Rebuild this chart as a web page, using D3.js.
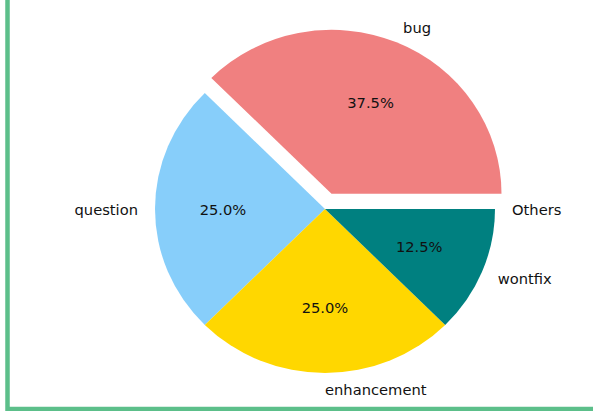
<!DOCTYPE html>
<html>
<head>
<meta charset="utf-8">
<script src="https://cdn.jsdelivr.net/npm/d3@7"></script>
<style>
  html, body { margin: 0; padding: 0; background: #ffffff; }
  svg { display: block; }
</style>
</head>
<body>
<svg id="chart" width="593" height="411"></svg>
<script>
// Issue labels and their share of the total, in percent
const labels = ["bug", "question", "enhancement", "wontfix", "Others"];
const shares = [37.5, 25.0, 25.0, 12.5, 0.0];
const colors = ["#F08080", "#87CEFA", "#FFD700", "#008080", "#808080"];
const explode = [0.1, 0, 0, 0, 0];

const svg = d3.select("#chart");
const W = 593, H = 411;

// frame around the figure
svg.append("rect")
  .attr("x", 7.5).attr("y", -20)
  .attr("width", W + 40).attr("height", 429)
  .attr("fill", "none")
  .attr("stroke", "#5cbf8a")
  .attr("stroke-width", 4.5);

const cx = 325, cy = 209;
const rx = 170, ry = 164;

// slices go counter-clockwise starting at 3 o'clock
const pie = d3.pie().sort(null).value(d => d)
  .startAngle(Math.PI / 2).endAngle(Math.PI / 2 - 2 * Math.PI);
const arcs = pie(shares);

const arc = d3.arc().innerRadius(0).outerRadius(ry);

const data = arcs.map((a, i) => {
  const mid = (a.startAngle + a.endAngle) / 2;
  const ux = Math.sin(mid), uy = -Math.cos(mid);
  return {
    a, i, ux, uy,
    ox: explode[i] * rx * ux,
    oy: explode[i] * ry * uy
  };
});

const g = svg.append("g");

g.selectAll("path.slice")
  .data(data.filter(d => d.a.value > 0))
  .join("path")
  .attr("class", "slice")
  .attr("d", d => arc(d.a))
  .attr("transform", d => `translate(${cx + d.ox},${cy + d.oy}) scale(${rx / ry},1)`)
  .attr("fill", d => colors[d.i]);

const font = "'DejaVu Sans', sans-serif";
const fs = 14.7;

// category labels outside the pie
g.selectAll("text.label")
  .data(data)
  .join("text")
  .attr("class", "label")
  .attr("x", d => cx + d.ox + 1.1 * rx * d.ux)
  .attr("y", d => cy + d.oy + 1.1 * ry * d.uy)
  .attr("text-anchor", d => d.ux > -1e-9 ? "start" : "end")
  .attr("dominant-baseline", "central")
  .attr("font-family", font)
  .attr("font-size", fs)
  .attr("fill", "#111")
  .text(d => labels[d.i]);

// percentage labels inside the slices
g.selectAll("text.pct")
  .data(data.filter(d => d.a.value > 0))
  .join("text")
  .attr("class", "pct")
  .attr("x", d => cx + d.ox + 0.6 * rx * d.ux)
  .attr("y", d => cy + d.oy + 0.6 * ry * d.uy)
  .attr("text-anchor", "middle")
  .attr("dominant-baseline", "central")
  .attr("font-family", font)
  .attr("font-size", fs)
  .attr("fill", "#111")
  .text(d => d.a.value.toFixed(1) + "%");
</script>
</body>
</html>
